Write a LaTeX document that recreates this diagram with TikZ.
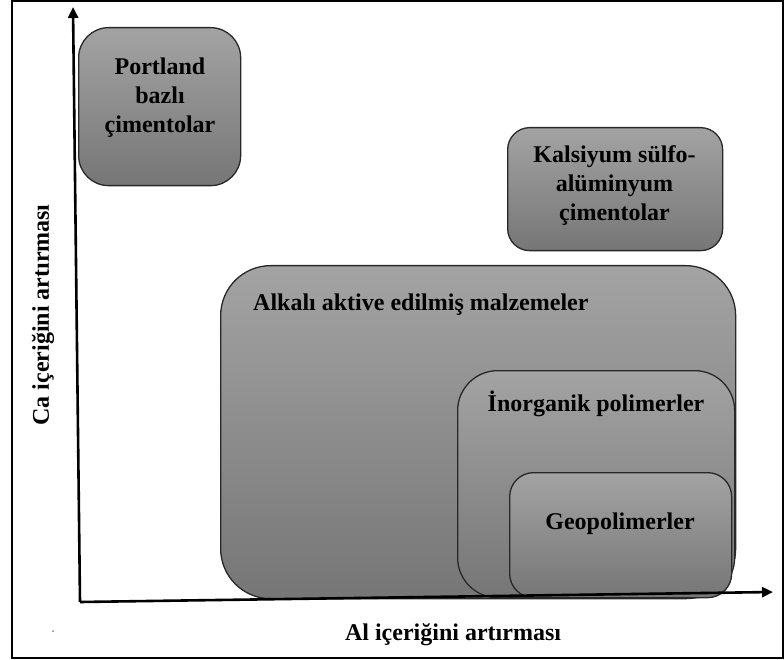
\documentclass[tikz,border=0pt]{standalone}
\usepackage{fontspec}
\setmainfont{Liberation Serif}
\usetikzlibrary{arrows.meta}

\definecolor{boxtop}{RGB}{163,163,163}
\definecolor{boxbot}{RGB}{118,118,118}
\definecolor{boxedge}{RGB}{40,40,40}

\tikzset{
  region/.style={draw=boxedge, line width=1.3pt, top color=boxtop, bottom color=boxbot,
    inner sep=0pt, anchor=north west},
  lbl/.style={font=\fontsize{24}{29}\selectfont\bfseries, align=center, inner sep=0pt, text=black},
  axis/.style={line width=2.6pt, draw=black, -{Triangle[length=11pt,width=10pt]}},
}

\begin{document}
\begin{tikzpicture}[x=1pt,y=-1pt]
  \useasboundingbox (0,0) rectangle (784,660);

  % outer frame
  \draw[line width=2pt] (11.5,1.2) rectangle (782.5,657.5);

  % material families
  \node[region, rounded corners=30pt, minimum width=162pt, minimum height=158pt] (portland) at (78,27) {};
  \node[lbl] (portlandtxt) at (160,98) {Portland\\bazlı\\çimentolar};

  \node[region, rounded corners=22pt, minimum width=215pt, minimum height=123pt] (csa) at (507,127) {};
  \node[lbl] (csatxt) at (614.5,186) {Kalsiyum sülfo-\\alüminyum\\çimentolar};

  \node[region, rounded corners=50pt, minimum width=515pt, minimum height=333pt] (aam) at (220,265) {};
  \node[lbl, anchor=west] (aamtxt) at (253,305) {Alkalı aktive edilmiş malzemeler};

  \node[region, rounded corners=40pt, minimum width=277pt, minimum height=227pt] (inorg) at (457,370) {};
  \node[lbl] (inorgtxt) at (596,404) {İnorganik polimerler};

  \node[region, rounded corners=24pt, minimum width=222pt, minimum height=125pt] (geo) at (509,472) {};
  \node[lbl] (geotxt) at (620,524) {Geopolimerler};

  % axes
  \coordinate (origin) at (80,602);
  \coordinate (ytip) at (73,7);
  \coordinate (xtip) at (773,592);
  \draw[axis] (origin) -- (ytip);
  \draw[axis] (origin) -- (xtip);

  \node[lbl, rotate=90] (ylabel) at (43,315) {Ca içeriğini artırması};
  \node[lbl] (xlabel) at (453,635) {Al içeriğini artırması};

  \fill[gray] (53,631) circle (1pt);
\end{tikzpicture}
\end{document}
